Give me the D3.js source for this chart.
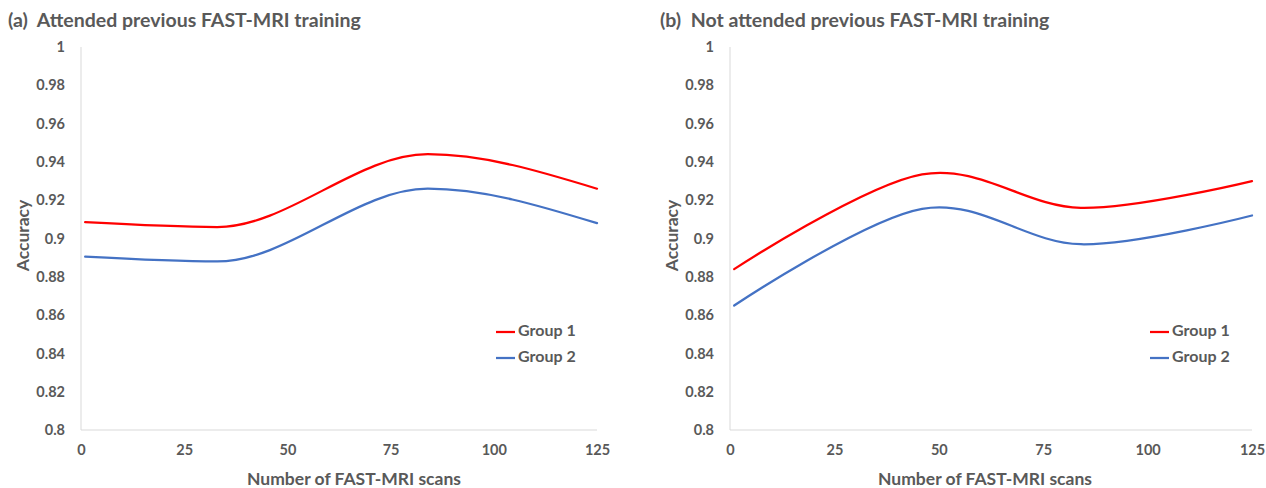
<!DOCTYPE html>
<html>
<head>
<meta charset="utf-8">
<script src="https://cdn.jsdelivr.net/npm/d3@7"></script>
<style>
  html, body { margin: 0; padding: 0; background: #fff; }
  svg { display: block; }
  text { font-family: Lato, "Open Sans", sans-serif; font-weight: bold; fill: #595959; white-space: pre; }
</style>
</head>
<body>
<svg id="chart" width="1266" height="488"></svg>
<script>
// Accuracy by number of FAST-MRI scans performed
const scansA = [1, 33, 84, 125];
const group1A = [0.9085, 0.906, 0.944, 0.926];
const group2A = [0.8905, 0.888, 0.926, 0.908];

const scansB = [1, 46, 84, 125];
const group1B = [0.884, 0.9335, 0.916, 0.930];
const group2B = [0.865, 0.9155, 0.897, 0.912];

const xTicks = [0, 25, 50, 75, 100, 125];
const yTicks = [0.8, 0.82, 0.84, 0.86, 0.88, 0.9, 0.92, 0.94, 0.96, 0.98, 1];
const seriesNames = ["Group 1", "Group 2"];
const seriesColors = ["#FF0000", "#4472C4"];

const svg = d3.select("#chart");

function panel(cfg) {
  const g = svg.append("g");
  const x = d3.scaleLinear().domain([0, 125]).range([cfg.left, cfg.right]);
  const y = d3.scaleLinear().domain([0.8, 1]).range([430, 47]);

  // title
  g.append("text")
    .attr("x", cfg.titleX).attr("y", 27)
    .style("font-size", "19.5px")
    .text(cfg.title);

  // axes lines
  g.append("line")
    .attr("x1", cfg.left).attr("x2", cfg.left)
    .attr("y1", y(1)).attr("y2", y(0.8))
    .attr("stroke", "#d9d9d9").attr("stroke-width", 1);
  g.append("line")
    .attr("x1", cfg.left).attr("x2", cfg.right)
    .attr("y1", y(0.8)).attr("y2", y(0.8))
    .attr("stroke", "#d9d9d9").attr("stroke-width", 1);

  // y tick labels
  const yAxis = d3.axisLeft(y).tickValues(yTicks).tickSize(0).tickPadding(16)
    .tickFormat(d => String(+d.toFixed(2)));
  const ya = g.append("g").attr("transform", `translate(${cfg.left},0)`).call(yAxis);
  ya.select(".domain").remove();
  ya.selectAll("text").style("font-size", "14.5px").attr("fill", "#595959")
    .style("font-family", "Lato, sans-serif").style("font-weight", "bold");

  // x tick labels
  const xAxis = d3.axisBottom(x).tickValues(xTicks).tickSize(0).tickPadding(15)
    .tickFormat(d3.format("d"));
  const xa = g.append("g").attr("transform", `translate(0,${y(0.8)})`).call(xAxis);
  xa.select(".domain").remove();
  xa.selectAll("text").style("font-size", "14.5px").attr("fill", "#595959")
    .style("font-family", "Lato, sans-serif").style("font-weight", "bold");

  // axis titles
  g.append("text")
    .attr("transform", `translate(${cfg.yTitleX},${(y(0.8) + y(1)) / 2 - 3}) rotate(-90)`)
    .attr("text-anchor", "middle").attr("dominant-baseline", "middle")
    .style("font-size", "17.5px")
    .text("Accuracy");
  g.append("text")
    .attr("x", cfg.xTitleX).attr("y", 485)
    .attr("text-anchor", "middle")
    .style("font-size", "17.5px")
    .text("Number of FAST-MRI scans");

  // smoothed series lines
  const line = d3.line()
    .x(d => x(d[0])).y(d => y(d[1]))
    .curve(cfg.curve);
  cfg.series.forEach((vals, i) => {
    g.append("path")
      .datum(cfg.scans.map((s, j) => [s, vals[j]]))
      .attr("d", line)
      .attr("fill", "none")
      .attr("stroke", seriesColors[i])
      .attr("stroke-width", 2.25)
      .attr("stroke-linecap", "round");
  });

  // legend
  seriesNames.forEach((name, i) => {
    const ly = 332 + i * 26;
    g.append("line")
      .attr("x1", cfg.legendX).attr("x2", cfg.legendX + 19)
      .attr("y1", ly).attr("y2", ly)
      .attr("stroke", seriesColors[i]).attr("stroke-width", 2.25);
    g.append("text")
      .attr("x", cfg.legendX + 22).attr("y", ly)
      .attr("dominant-baseline", "middle")
      .style("font-size", "16px")
      .text(name);
  });
}

panel({
  title: "(a)  Attended previous FAST-MRI training",
  titleX: 8, left: 81, right: 597, yTitleX: 25, xTitleX: 354, legendX: 496,
  scans: scansA, series: [group1A, group2A], curve: d3.curveMonotoneX
});
panel({
  title: "(b)  Not attended previous FAST-MRI training",
  titleX: 660, left: 730, right: 1252, yTitleX: 674, xTitleX: 985, legendX: 1150,
  scans: scansB, series: [group1B, group2B], curve: d3.curveCardinal.tension(0)
});
</script>
</body>
</html>
